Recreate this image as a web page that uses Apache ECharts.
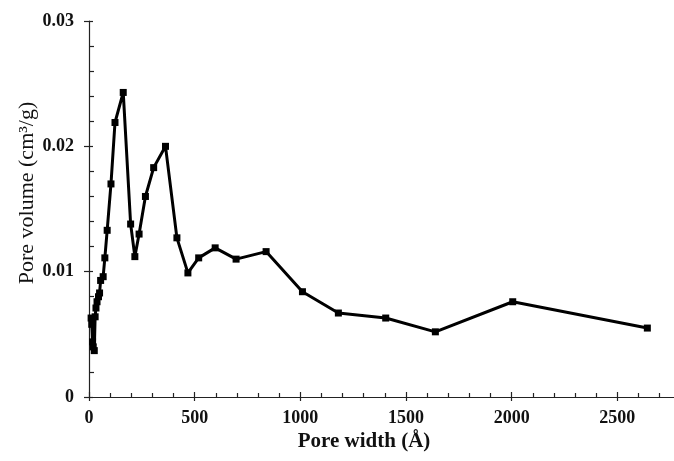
<!DOCTYPE html>
<html>
<head>
<meta charset="utf-8">
<script src="https://cdn.jsdelivr.net/npm/echarts@6/dist/echarts.min.js"></script>
<style>html,body{margin:0;padding:0;background:#fff;overflow:hidden;width:674px;height:461px}#c{width:726px;height:461px}</style>
</head>
<body>
<div id="c"></div>
<script>
// Pore width (Å)
var poreWidth = [10, 13, 17, 20, 25, 29, 33, 38, 45, 50, 55, 67, 75, 86, 104, 123, 162, 197, 217, 237, 267, 306, 362, 416, 468, 519, 597, 696, 838, 1010, 1180, 1404, 1639, 2005, 2642];
// Pore volume (cm3/g)
var poreVolume = [0.0063, 0.0058, 0.0044, 0.0040, 0.0037, 0.0064, 0.0071, 0.0076, 0.0080, 0.0083, 0.0093, 0.0096, 0.0111, 0.0133, 0.0170, 0.0219, 0.0243, 0.0138, 0.0112, 0.0130, 0.0160, 0.0183, 0.0200, 0.0127, 0.0099, 0.0111, 0.0119, 0.0110, 0.0116, 0.0084, 0.0067, 0.0063, 0.0052, 0.0076, 0.0055];
var xTicks = [0, 500, 1000, 1500, 2000, 2500];
var yTicks = [0, 0.01, 0.02, 0.03];

var pts = poreWidth.map(function (x, i) { return [x, poreVolume[i]]; });
var font = '"Liberation Serif", "DejaVu Serif", serif';
var chart = echarts.init(document.getElementById('c'));
function xAx(overlay) {
  return {
    type: 'value', min: 0, max: 3000, interval: 500, position: 'bottom',
    axisLine: { show: !overlay, onZero: false, lineStyle: { color: '#222', width: 1.2 } },
    axisTick: { show: true, inside: !overlay, length: overlay ? 4 : 5, lineStyle: { color: '#222', width: 1.2 } },
    minorTick: { show: !overlay, splitNumber: 5, length: 4, lineStyle: { color: '#222', width: 1.2 } },
    splitLine: { show: false },
    axisLabel: { show: !overlay, margin: 12, color: '#111', fontFamily: font, fontWeight: 'bold', fontSize: 18,
      formatter: function (v) { return xTicks.indexOf(v) >= 0 ? String(v) : ''; } }
  };
}
function yAx(overlay) {
  return {
    type: 'value', min: 0, max: 0.03, interval: 0.01, position: 'left',
    axisLine: { show: !overlay, onZero: false, lineStyle: { color: '#222', width: 1.2 } },
    axisTick: { show: true, inside: !overlay, length: overlay ? 5 : 4, lineStyle: { color: '#222', width: 1.2 } },
    minorTick: { show: !overlay, splitNumber: 5, length: 5, lineStyle: { color: '#222', width: 1.2 } },
    splitLine: { show: false },
    axisLabel: { show: !overlay, margin: 15, color: '#111', fontFamily: font, fontWeight: 'bold', fontSize: 18,
      formatter: function (v) { var i = yTicks.indexOf(v); return i === 0 ? '0' : (i > 0 ? v.toFixed(2) : ''); } }
  };
}
chart.setOption({
  animation: false,
  backgroundColor: '#fff',
  grid: { left: 89, top: 21, right: 0, bottom: 64 },
  xAxis: [xAx(false), xAx(true)],
  yAxis: [yAx(false), yAx(true)],
  series: [{
    type: 'line', data: pts, xAxisIndex: 0, yAxisIndex: 0,
    symbol: 'rect', symbolSize: 7, showAllSymbol: true,
    lineStyle: { color: '#000', width: 3 },
    itemStyle: { color: '#000' }
  }],
  graphic: [
    { type: 'text', x: 364, y: 442, style: { text: 'Pore width (Å)', font: 'bold 21px ' + font, fill: '#111', textAlign: 'center', textVerticalAlign: 'middle' } },
    { type: 'text', x: 27, y: 193, rotation: Math.PI / 2, style: { text: 'Pore volume (cm³/g)', font: '22px ' + font, fill: '#111', textAlign: 'center', textVerticalAlign: 'middle' } }
  ]
});
</script>
</body>
</html>
